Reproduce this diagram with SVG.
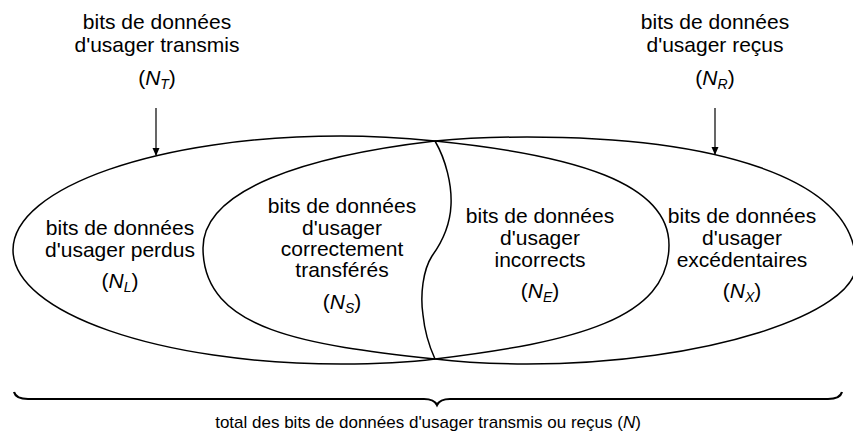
<svg xmlns="http://www.w3.org/2000/svg" width="853" height="438" viewBox="0 0 853 438">
<style>
  text { font-family: "Liberation Sans", Arial, sans-serif; font-size: 21px; fill: #000; text-anchor: middle; }
  .it { font-style: italic; }
  .sub { font-style: italic; font-size: 14px; }
  .shape { fill: none; stroke: #000; stroke-width: 1.5; }
  .conn { fill: none; stroke: #000; stroke-width: 1.2; }
  .brace { fill: none; stroke: #000; stroke-width: 2.2; }
</style>
<defs>
  <marker id="arr" markerWidth="8" markerHeight="10" refX="7" refY="4" orient="auto" markerUnits="userSpaceOnUse">
    <path d="M0,0.5 L8,4 L0,7.5 Z" fill="#000"/>
  </marker>
</defs>
<rect width="853" height="438" fill="#fff"/>

<g id="shapes">
  <path id="set-transmitted" class="shape" d="M435,141 C575,155 669,183 669,245 C669,319 575,342 435,359 C404,363 372,364 341,364 C160,364 13,313 13,250 C13,187 160,136 341,136 C372,136 404,138 435,141 Z"/>
  <path id="set-received" class="shape" d="M435,141 C466,138 496,137 527,137 C708,137 856,175 856,265 C856,313 708,364 527,364 C496,364 466,363 435,359 C307,345 203,331 203,248 C203,189 307,156 435,141 Z"/>
  <path id="split" class="shape" d="M435,141 C446,160 452,185 451,205 C450,228 440,245 432,256 C423,270 420,295 423,315 C425,335 430,348 435,359"/>
</g>

<g id="node-NT">
  <text x="157" y="29">bits de données</text>
  <text x="157" y="52">d'usager transmis</text>
  <text x="157" y="85">(<tspan class="it">N</tspan><tspan class="sub" dy="4">T</tspan><tspan dy="-4">)</tspan></text>
</g>
<g id="node-NR">
  <text x="715" y="29">bits de données</text>
  <text x="715" y="52">d'usager reçus</text>
  <text x="715" y="85">(<tspan class="it">N</tspan><tspan class="sub" dy="4">R</tspan><tspan dy="-4">)</tspan></text>
</g>
<g id="node-NL">
  <text x="120" y="235">bits de données</text>
  <text x="120" y="257">d'usager perdus</text>
  <text x="120" y="288">(<tspan class="it">N</tspan><tspan class="sub" dy="4">L</tspan><tspan dy="-4">)</tspan></text>
</g>
<g id="node-NS">
  <text x="342" y="213">bits de données</text>
  <text x="342" y="235">d'usager</text>
  <text x="342" y="256">correctement</text>
  <text x="342" y="277">transférés</text>
  <text x="342" y="309">(<tspan class="it">N</tspan><tspan class="sub" dy="4">S</tspan><tspan dy="-4">)</tspan></text>
</g>
<g id="node-NE">
  <text x="540" y="223">bits de données</text>
  <text x="540" y="245">d'usager</text>
  <text x="540" y="267">incorrects</text>
  <text x="540" y="298">(<tspan class="it">N</tspan><tspan class="sub" dy="4">E</tspan><tspan dy="-4">)</tspan></text>
</g>
<g id="node-NX">
  <text x="742" y="223">bits de données</text>
  <text x="742" y="245">d'usager</text>
  <text x="742" y="267">excédentaires</text>
  <text x="742" y="298">(<tspan class="it">N</tspan><tspan class="sub" dy="4">X</tspan><tspan dy="-4">)</tspan></text>
</g>

<g id="connectors">
  <line class="conn" x1="156" y1="108" x2="156" y2="155" marker-end="url(#arr)"/>
  <line class="conn" x1="715" y1="108" x2="715" y2="154" marker-end="url(#arr)"/>
  <path id="brace" class="brace" d="M14,392 Q16,399 28,399 L424,399 Q434,399 437,405 Q440,399 450,399 L828,399 Q840,399 842,392"/>
</g>

<g id="node-total">
  <text x="428" y="428" style="font-size:17px">total des bits de données d'usager transmis ou reçus (<tspan class="it">N</tspan>)</text>
</g>
</svg>
